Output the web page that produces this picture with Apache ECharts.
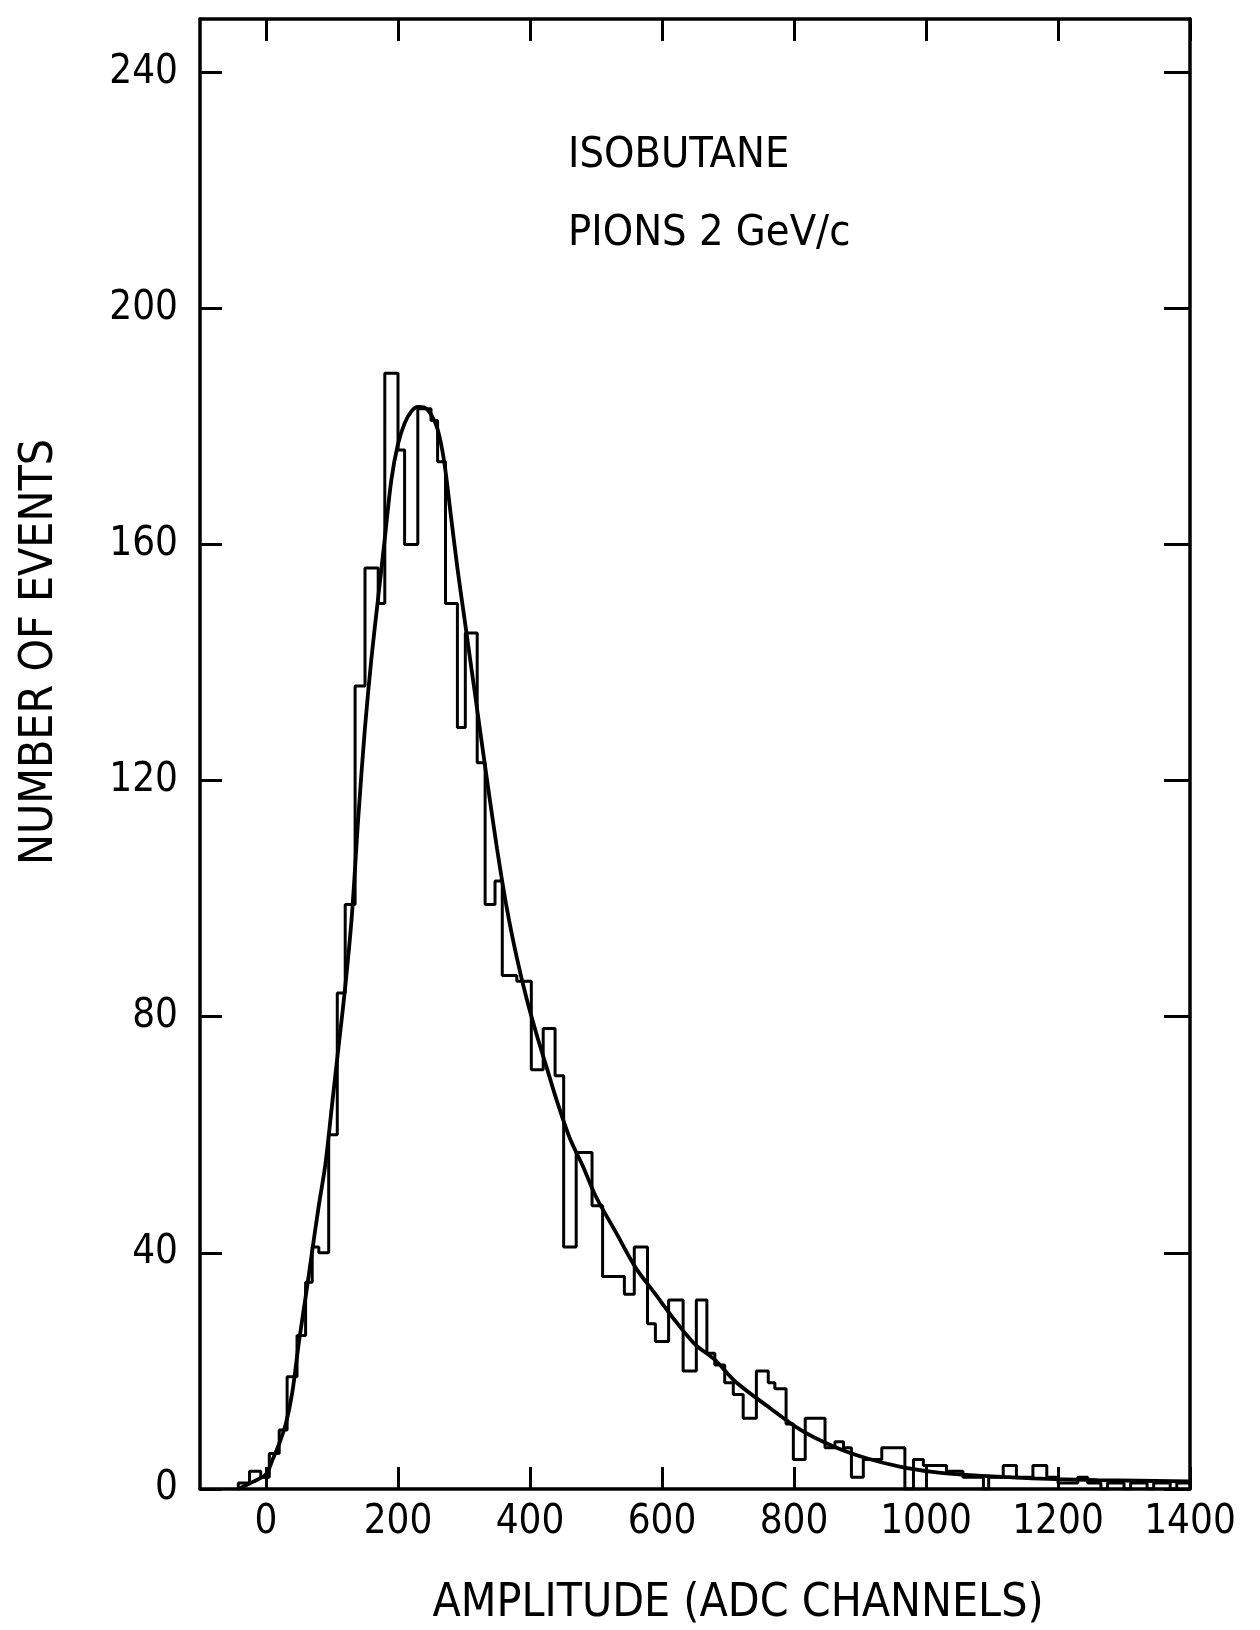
<!DOCTYPE html>
<html><head><meta charset="utf-8">
<script src="https://cdn.jsdelivr.net/npm/echarts@6/dist/echarts.min.js"></script>
<style>html,body{margin:0;padding:0;background:#fff}#c{width:1260px;height:1630px}</style>
</head><body><div id="c"></div>
<script>
const xTicks = [0, 200, 400, 600, 800, 1000, 1200, 1400];
const yTicks = [0, 40, 80, 120, 160, 200, 240];
// histogram: left edge of each step (ADC channels) and its count
const binEdges = [-42,-25,-8,5,20,32,47,60,70,80,95,108,120,135,150,170,180,200,210,230,250,260,272,290,302,320,332,347,358,380,402,420,438,451,470,494,510,543,558,578,590,610,632,652,668,680,695,708,723,743,761,771,788,799,817,847,862,875,887,905,933,968,981,996,1031,1056,1087,1095,1117,1137,1162,1183,1200,1230,1245,1265,1275,1300,1310,1335,1345,1370,1380];
const binCounts = [1,3,2,6,10,19,26,35,41,40,60,84,99,136,156,150,189,176,160,183,181,174,150,129,145,123,99,103,87,86,71,78,70,41,57,48,36,33,41,28,25,32,20,32,23,21,18,16,12,20,18,17,11,5,12,7,8,7,2,5,7,0,5,4,3,2,0,2,4,2,4,2,1,2,1,0,1,0,1,0,1,0,1];
const histEnd = 1400;
// fitted curve
const fitX = [-42,-20,0,10,20,30,40,50,60,70,80,90,100,110,120,130,140,150,160,170,180,190,200,210,220,230,240,250,260,270,280,290,300,310,320,335,350,365,380,395,410,425,440,460,480,500,530,560,590,620,650,680,710,760,810,860,910,960,1010,1060,1110,1160,1260,1400];
const fitY = [0,1.2,2.5,5,7.7,11,16.5,25,32.5,40.3,48,55,65,75,85,97,114,129,141,151,161,171,177,180.5,182.5,183.3,183.2,182,179.5,174,165,156,148,140,132,120,108.5,98.3,90,83,77,71.5,66,59.5,54.7,49.5,43.5,37.5,33,28.5,24.5,21.9,18.3,14,10,7.2,5.2,3.8,2.9,2.4,2.1,1.8,1.5,1.3];
const xTitle = 'AMPLITUDE (ADC CHANNELS)';
const yTitle = 'NUMBER OF EVENTS';
const notes = ['ISOBUTANE', 'PIONS 2 GeV/c'];

const FONT = '"DejaVu Sans Condensed", "DejaVu Sans", sans-serif';
const histData = [[binEdges[0], 0]].concat(binEdges.map((e, i) => [e, binCounts[i]]));
histData.push([histEnd, binCounts[binCounts.length - 1]]);
const fitData = fitX.map((x, i) => [x, fitY[i]]);

const axLine = {show: true, onZero: false, lineStyle: {color: '#000', width: 3.5}};
const tickStyle = {color: '#000', width: 3};
const plain = v => String(v);
const chart = echarts.init(document.getElementById('c'));
chart.setOption({
  animation: false,
  backgroundColor: '#fff',
  grid: {left: 200, right: 70, top: 19, bottom: 141, containLabel: false},
  xAxis: [
    {type: 'value', position: 'bottom', min: -100, max: 1400,
     axisLine: axLine,
     axisTick: {show: true, inside: true, length: 22, lineStyle: tickStyle, customValues: xTicks},
     axisLabel: {show: true, customValues: xTicks, formatter: plain, color: '#000', fontSize: 40, fontFamily: FONT, margin: 14},
     splitLine: {show: false}},
    {type: 'value', position: 'top', min: -100, max: 1400,
     axisLine: axLine,
     axisTick: {show: true, inside: true, length: 22, lineStyle: tickStyle, customValues: xTicks},
     axisLabel: {show: false},
     splitLine: {show: false}}
  ],
  yAxis: [
    {type: 'value', position: 'left', min: 0, max: 249,
     axisLine: axLine,
     axisTick: {show: true, inside: true, length: 22, lineStyle: tickStyle, customValues: yTicks},
     axisLabel: {show: true, customValues: yTicks, formatter: plain, color: '#000', fontSize: 40, fontFamily: FONT, margin: 22},
     splitLine: {show: false}},
    {type: 'value', position: 'right', min: 0, max: 249,
     axisLine: axLine,
     axisTick: {show: true, inside: true, length: 26, lineStyle: tickStyle, customValues: yTicks},
     axisLabel: {show: false},
     splitLine: {show: false}}
  ],
  series: [
    {type: 'line', name: 'histogram', data: histData, step: 'end', showSymbol: false,
     lineStyle: {color: '#000', width: 3}, xAxisIndex: 0, yAxisIndex: 0, z: 3},
    {type: 'line', name: 'fit', data: fitData, smooth: 0.3, showSymbol: false,
     lineStyle: {color: '#000', width: 3.8}, xAxisIndex: 0, yAxisIndex: 0, z: 4}
  ],
  graphic: [
    {type: 'text', x: 738, y: 1604, style: {text: xTitle, font: '46px ' + FONT, fill: '#000', align: 'center', verticalAlign: 'middle', textAlign: 'center', textVerticalAlign: 'middle'}},
    {type: 'text', x: 40, y: 652, rotation: Math.PI / 2, style: {text: yTitle, font: '46px ' + FONT, fill: '#000', align: 'center', verticalAlign: 'middle', textAlign: 'center', textVerticalAlign: 'middle'}},
    {type: 'text', x: 568, y: 156, style: {text: notes[0], font: '43px ' + FONT, fill: '#000', align: 'left', verticalAlign: 'middle', textAlign: 'left', textVerticalAlign: 'middle'}},
    {type: 'text', x: 568, y: 234, style: {text: notes[1], font: '43px ' + FONT, fill: '#000', align: 'left', verticalAlign: 'middle', textAlign: 'left', textVerticalAlign: 'middle'}}
  ]
});
</script>
</body></html>
